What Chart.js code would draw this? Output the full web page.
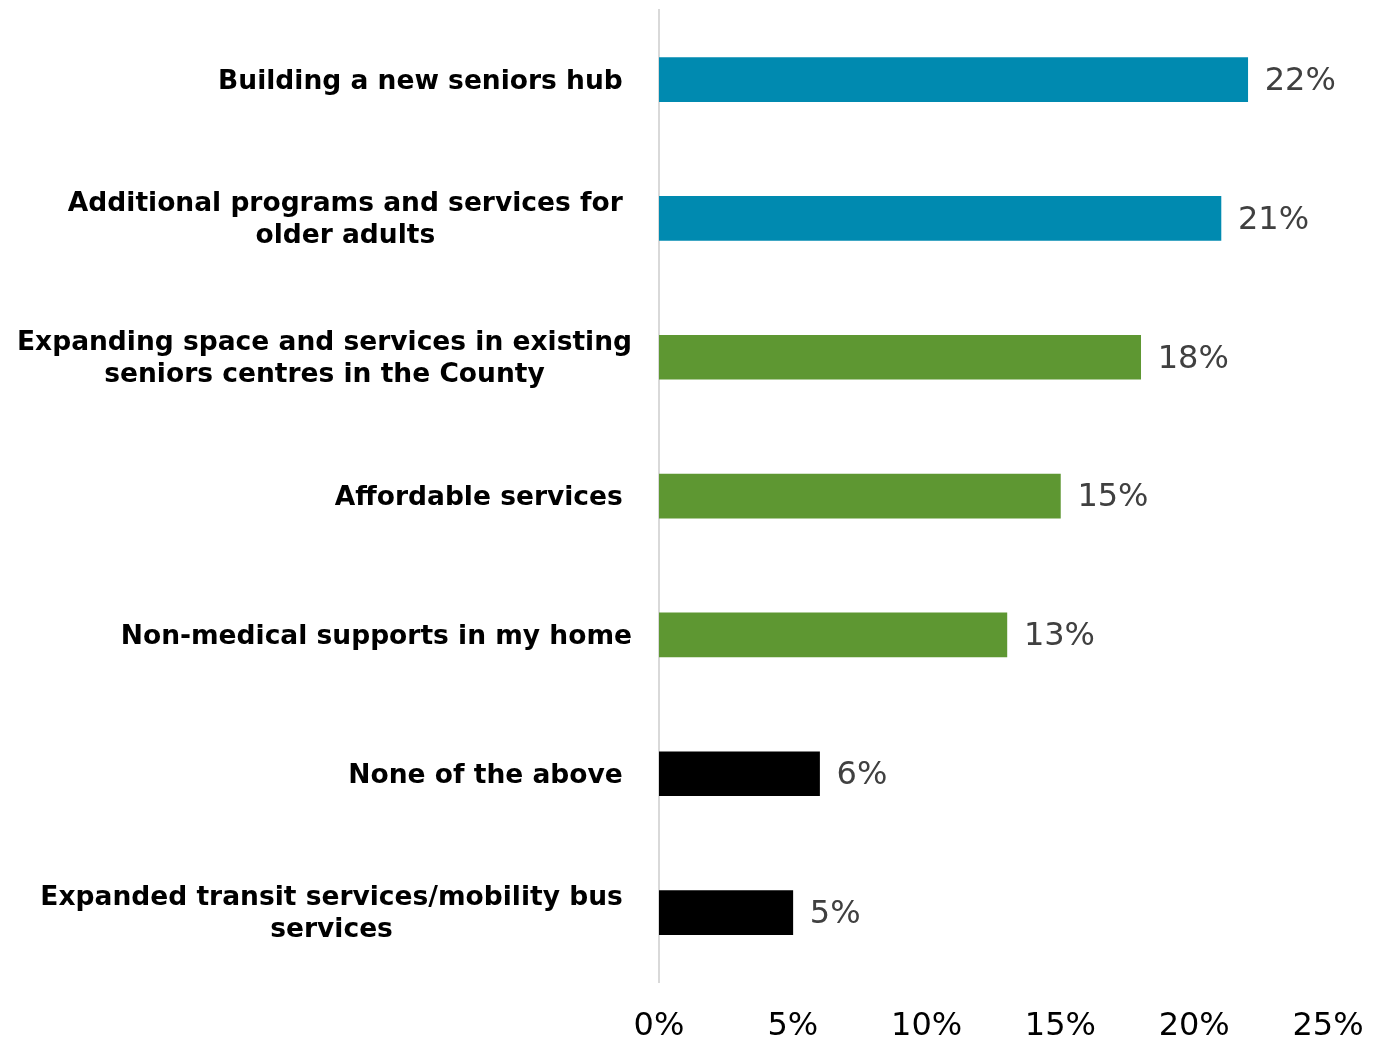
<!DOCTYPE html>
<html>
<head>
<meta charset="utf-8">
<script src="https://cdn.jsdelivr.net/npm/chart.js@4/dist/chart.umd.min.js"></script>
<style>
  html, body { margin: 0; padding: 0; background: #ffffff; }
  #wrap { width: 1383px; height: 1041px; }
</style>
</head>
<body>
<div id="wrap"><canvas id="prioritiesBar"></canvas></div>
<script>
// each label is a list of lines; trailing spaces kept as in the source sheet
const categories = [
    ["Building a new seniors hub "],
    ["Additional programs and services for ", "older adults "],
    ["Expanding space and services in existing", "seniors centres in the County"],
    ["Affordable services "],
    ["Non-medical supports in my home"],
    ["None of the above "],
    ["Expanded transit services/mobility bus ", "services "]
];
const shares = [22, 21, 18, 15, 13, 6, 5];
const barColours = ["#008AB0", "#008AB0", "#5E9732", "#5E9732", "#5E9732", "#000000", "#000000"];
const xTicks = [0, 5, 10, 15, 20, 25];

const FONT = "'DejaVu Sans', Verdana, sans-serif";

// category names, each block centred on itself and right-aligned next to the axis
const categoryLabels = {
    id: "categoryLabels",
    afterDraw(chart) {
        const ctx = chart.ctx;
        const y = chart.scales.y;
        const right = y.right - 27;
        const lineH = 32;
        ctx.save();
        ctx.font = "bold 26.5px " + FONT;
        ctx.fillStyle = "#000000";
        ctx.textAlign = "center";
        ctx.textBaseline = "middle";
        categories.forEach((lines, i) => {
            const w = Math.max(...lines.map(l => ctx.measureText(l).width));
            const cx = right - w / 2;
            const cy = y.getPixelForValue(i) + 2 - (lines.length - 1) * lineH / 2;
            lines.forEach((l, k) => ctx.fillText(l, cx, cy + k * lineH));
        });
        ctx.restore();
    }
};

// percentage printed just past the end of each bar
const valueLabels = {
    id: "valueLabels",
    afterDatasetsDraw(chart) {
        const ctx = chart.ctx;
        const meta = chart.getDatasetMeta(0);
        ctx.save();
        ctx.font = "32px " + FONT;
        ctx.fillStyle = "#404040";
        ctx.textAlign = "left";
        ctx.textBaseline = "middle";
        meta.data.forEach((bar, i) => {
            ctx.fillText(shares[i] + "%", bar.x + 17, bar.y + 2);
        });
        ctx.restore();
    }
};

new Chart(document.getElementById("prioritiesBar"), {
    type: "bar",
    data: {
        labels: categories.map(l => l.join(" ").trim()),
        datasets: [{
            data: shares,
            backgroundColor: barColours,
            borderWidth: 0,
            barThickness: 44
        }]
    },
    options: {
        indexAxis: "y",
        responsive: true,
        maintainAspectRatio: false,
        animation: false,
        layout: { padding: { top: 10, right: 55, bottom: 0, left: 0 } },
        plugins: {
            legend: { display: false },
            tooltip: { enabled: false }
        },
        scales: {
            x: {
                min: 0,
                max: 25,
                grid: { display: false, drawTicks: false },
                border: { display: false },
                afterBuildTicks(scale) {
                    scale.ticks = xTicks.map(v => ({ value: v }));
                },
                afterFit(scale) {
                    scale.height = 59;
                    scale.paddingLeft = 0;
                    scale.paddingRight = 0;
                },
                ticks: {
                    padding: 25,
                    color: "#000000",
                    font: { family: FONT, size: 32 },
                    callback: v => v + "%"
                }
            },
            y: {
                grid: { display: false, drawTicks: false },
                border: { display: true, color: "#D9D9D9", width: 2 },
                ticks: { callback: () => "" },
                afterFit(scale) { scale.width = 659; }
            }
        }
    },
    plugins: [categoryLabels, valueLabels]
});
</script>
</body>
</html>
